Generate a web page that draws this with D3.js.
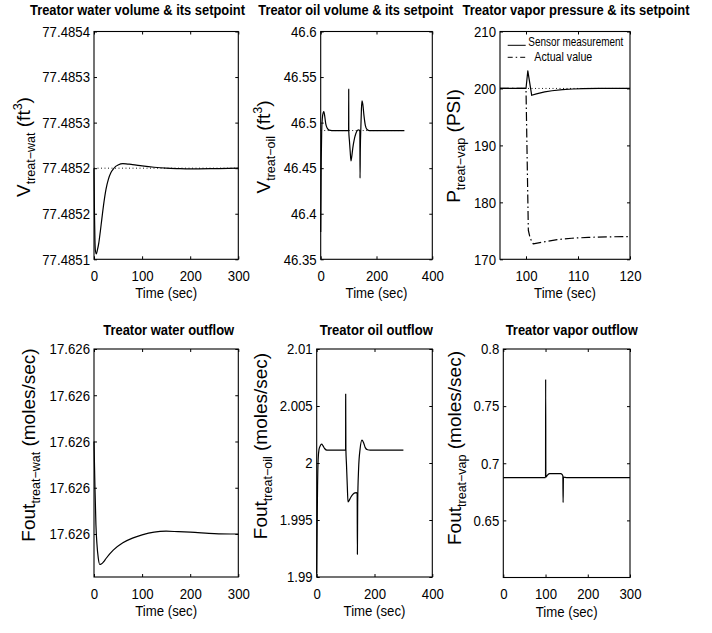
<!DOCTYPE html>
<html>
<head>
<meta charset="utf-8">
<script src="https://cdn.jsdelivr.net/npm/d3@7"></script>
<style>
  html, body { margin: 0; padding: 0; background: #fff; }
  svg { display: block; }
</style>
</head>
<body>
<svg id="fig" width="712" height="633"></svg>
<script>
// ---- Treater simulation traces (time in seconds) ----

// Treater water volume and its setpoint
const waterVolTime  = [0, 1, 2, 3, 5, 7, 10, 13, 16, 20, 25, 30, 35, 40, 45, 50, 60, 70, 80, 100, 125, 150, 175, 200, 250, 300];
const waterVolLevel = [77.48520, 77.48515, 77.48512, 77.485109, 77.485106, 77.48511, 77.485118, 77.48513, 77.485143, 77.48516,
                       77.485177, 77.485188, 77.485195, 77.485199, 77.485202, 77.4852035, 77.485205, 77.4852045, 77.485204, 77.4852025,
                       77.485201, 77.4852, 77.4851995, 77.4851992, 77.4851995, 77.4852];
const waterVolSetpoint = 77.4852;
const waterVolTicks  = [77.4851, 77.48515, 77.4852, 77.48525, 77.4853, 77.48535];
const waterVolLabels = ["77.4851", "77.4852", "77.4852", "77.4853", "77.4853", "77.4854"];

// Treater oil volume and its setpoint
const oilVolTime  = [0, 1, 2, 3.5, 6, 9, 11.5, 14, 18, 23, 30, 40, 100, 100.4, 100.7, 103, 106, 108.6, 111, 115,
                     120, 126, 132, 137, 140.3, 141, 142, 144, 146, 148, 151, 155, 160, 166, 175, 300];
const oilVolLevel = [46.38, 46.42, 46.46, 46.49, 46.505, 46.511, 46.512, 46.508, 46.499, 46.494, 46.4918, 46.4913, 46.4913, 46.5367, 46.49, 46.480, 46.467, 46.458, 46.462, 46.472,
                     46.481, 46.488, 46.4915, 46.492, 46.4905, 46.439, 46.47, 46.495, 46.515, 46.524, 46.52, 46.508, 46.497, 46.4925, 46.4913, 46.4913];
const oilVolSetpoint = 46.4913;
const oilVolTicks  = [46.35, 46.4, 46.45, 46.5, 46.55, 46.6];
const oilVolLabels = ["46.35", "46.4", "46.45", "46.5", "46.55", "46.6"];

// Treater vapor pressure: sensor reading, true value and setpoint
const sensorTime     = [95, 100, 100.35, 101.1, 102, 103.6, 105, 107, 109, 111, 114, 120];
const sensorPressure = [200, 200, 203.1, 198.8, 199.05, 199.4, 199.6, 199.8, 199.9, 199.96, 200, 200];
const actualTime     = [95, 100, 100.45, 100.8, 101.4, 103.7, 106, 108.8, 112, 116, 120];
const actualPressure = [200, 200, 175.1, 173.7, 172.7, 173.1, 173.45, 173.7, 173.85, 173.95, 174.0];
const pressureSetpoint = 200;
const pressureTicks  = [170, 180, 190, 200, 210];
const pressureLabels = ["170", "180", "190", "200", "210"];
const pressureTimeTicks  = [100, 110, 120];
const pressureTimeLabels = ["100", "110", "120"];

// Treater water outflow
const waterOutTime = [0, 2, 4, 6, 9, 12, 15, 20, 25, 40, 60, 80, 100, 125, 150, 175, 200, 250, 300];
const waterOutFlow = [17.62600, 17.625990, 17.625982, 17.625978, 17.6259747, 17.6259734, 17.6259735, 17.625974, 17.6259747, 17.6259765,
                      17.6259781, 17.6259791, 17.6259798, 17.6259804, 17.6259806, 17.6259805, 17.6259804, 17.6259801, 17.62598];
const waterOutTicks  = [17.62598, 17.62599, 17.626, 17.62601, 17.62602];
const waterOutLabels = ["17.626", "17.626", "17.626", "17.626", "17.626"];

// Treater oil outflow
const oilOutTime = [0, 1.5, 3, 5, 8, 12, 17, 22, 28, 35, 100, 100.3, 101, 103, 106, 108.3, 112, 118, 125, 132,
                    138, 140, 140.8, 141.8, 145, 150, 156.7, 162, 168, 176, 185, 300];
const oilOutFlow = [1.9903, 1.9945, 1.998, 2.0003, 2.0012, 2.0015, 2.00166, 2.0015, 2.00125, 2.00113, 2.00113, 2.00605, 2.0012, 1.9999, 1.9979, 1.99659, 1.9967, 1.997, 1.99725, 1.99738,
                    1.9974, 1.9973, 1.99199, 1.9965, 1.9995, 2.0012, 2.00201, 2.0018, 2.00135, 2.00116, 2.00113, 2.00113];
const oilOutTicks  = [1.99, 1.995, 2, 2.005, 2.01];
const oilOutLabels = ["1.99", "1.995", "2", "2.005", "2.01"];

// Treater vapor outflow
const vapOutTime = [0, 100, 100.3, 100.8, 103, 106, 110, 115, 136, 139, 141, 141.6, 142.4, 146, 150, 300];
const vapOutFlow = [0.6875, 0.6875, 0.7735, 0.6878, 0.6888, 0.6902, 0.6909, 0.691, 0.691, 0.6902, 0.6889, 0.6656, 0.688, 0.6876, 0.6875, 0.6875];
const vapOutTicks  = [0.65, 0.7, 0.75, 0.8];
const vapOutLabels = ["0.65", "0.7", "0.75", "0.8"];

// Shared time axes
const time300Ticks  = [0, 100, 200, 300];
const time300Labels = ["0", "100", "200", "300"];
const time400Ticks  = [0, 200, 400];
const time400Labels = ["0", "200", "400"];

const legendLabels = ["Sensor measurement", "Actual value"];

// ---- drawing ----
const FONT = '"Liberation Sans", Arial, Helvetica, sans-serif';
const SQUEEZE = 0.88;       // narrow face for horizontal lettering
const DASH_DOT = "9,3,1.5,3";
const DOTTED = "1,2.5";

const svg = d3.select("#fig");
svg.append("rect").attr("width", 712).attr("height", 633).attr("fill", "#fff");

const zip = (a, b) => a.map((t, i) => [t, b[i]]);

const panels = [
  {
    box: { left: 94, right: 238.3, top: 31.5, bottom: 259.3 },
    xDomain: [0, 300], xTicks: time300Ticks, xLabels: time300Labels,
    yDomain: [77.4851, 77.48535], yTicks: waterVolTicks, yLabels: waterVolLabels,
    series: [{ data: zip(waterVolTime, waterVolLevel), smooth: true }],
    setpoint: { value: waterVolSetpoint, from: 0, to: 300 },
    title: { text: "Treator water volume & its setpoint", cx: 137.5, y: 15, w: 215 },
    ylabel: { x: 30, y: 147, parts: [["V", 0], ["treat\u2212wat", 1], [" (ft", 0], ["3", -1], [")", 0]] }
  },
  {
    box: { left: 320.7, right: 432.3, top: 31.5, bottom: 259.3 },
    xDomain: [0, 400], xTicks: time400Ticks, xLabels: time400Labels,
    yDomain: [46.35, 46.6], yTicks: oilVolTicks, yLabels: oilVolLabels,
    series: [{ data: zip(oilVolTime, oilVolLevel), smooth: true }],
    setpoint: { value: oilVolSetpoint, from: 0, to: 300 },
    title: { text: "Treator oil volume & its setpoint", cx: 355.8, y: 15, w: 195 },
    ylabel: { x: 270, y: 147, parts: [["V", 0], ["treat\u2212oil", 1], [" (ft", 0], ["3", -1], [")", 0]] }
  },
  {
    box: { left: 500, right: 630, top: 31.5, bottom: 259.3 },
    xDomain: [95, 120], xTicks: pressureTimeTicks, xLabels: pressureTimeLabels,
    yDomain: [170, 210], yTicks: pressureTicks, yLabels: pressureLabels,
    series: [
      { data: zip(sensorTime, sensorPressure), smooth: false },
      { data: zip(actualTime, actualPressure), smooth: false, dash: DASH_DOT }
    ],
    setpoint: { value: pressureSetpoint, from: 95, to: 120 },
    legend: true,
    title: { text: "Treator vapor pressure & its setpoint", cx: 576, y: 15, w: 227 },
    ylabel: { x: 460, y: 146, parts: [["P", 0], ["treat\u2212vap", 1], [" (PSI)", 0]] }
  },
  {
    box: { left: 94, right: 238.3, top: 349, bottom: 577 },
    xDomain: [0, 300], xTicks: time300Ticks, xLabels: time300Labels,
    yDomain: [17.6259707, 17.62602], yTicks: waterOutTicks, yLabels: waterOutLabels,
    series: [{ data: zip(waterOutTime, waterOutFlow), smooth: true }],
    title: { text: "Treator water outflow", cx: 168.7, y: 335, w: 131 },
    ylabel: { x: 35, y: 445, parts: [["Fout", 0], ["treat\u2212wat", 1], [" (moles/sec)", 0]] }
  },
  {
    box: { left: 316.7, right: 432.3, top: 349, bottom: 577 },
    xDomain: [0, 400], xTicks: time400Ticks, xLabels: time400Labels,
    yDomain: [1.99, 2.01], yTicks: oilOutTicks, yLabels: oilOutLabels,
    series: [{ data: zip(oilOutTime, oilOutFlow), smooth: true }],
    title: { text: "Treator oil outflow", cx: 376.3, y: 335, w: 113 },
    ylabel: { x: 267, y: 446, parts: [["Fout", 0], ["treat\u2212oil", 1], [" (moles/sec)", 0]] }
  },
  {
    box: { left: 503.3, right: 630, top: 349, bottom: 577.5 },
    xDomain: [0, 300], xTicks: time300Ticks, xLabels: time300Labels,
    yDomain: [0.6, 0.8], yTicks: vapOutTicks, yLabels: vapOutLabels,
    series: [{ data: zip(vapOutTime, vapOutFlow), smooth: true }],
    title: { text: "Treator vapor outflow", cx: 571.7, y: 335, w: 132 },
    ylabel: { x: 461, y: 448, parts: [["Fout", 0], ["treat\u2212vap", 1], [" (moles/sec)", 0]] }
  }
];

function styleAxis(sel) {
  sel.select(".domain").remove();
  sel.attr("font-family", FONT).attr("font-size", 15);
  sel.selectAll(".tick line").attr("stroke", "#000").attr("stroke-width", 1);
  sel.selectAll(".tick text").attr("fill", "#000").classed("sq", true);
}

function drawPanel(p) {
  const b = p.box;
  const x = d3.scaleLinear().domain(p.xDomain).range([b.left, b.right]);
  const y = d3.scaleLinear().domain(p.yDomain).range([b.bottom, b.top]);
  const g = svg.append("g");

  // setpoint (dotted) under the traces
  if (p.setpoint) {
    g.append("line")
      .attr("x1", x(p.setpoint.from)).attr("x2", x(p.setpoint.to))
      .attr("y1", y(p.setpoint.value)).attr("y2", y(p.setpoint.value))
      .attr("stroke", "#000").attr("stroke-width", 0.9)
      .attr("stroke-dasharray", DOTTED);
  }

  p.series.forEach(s => {
    const line = d3.line()
      .x(d => x(d[0])).y(d => y(d[1]))
      .curve(s.smooth ? d3.curveMonotoneX : d3.curveLinear);
    g.append("path")
      .datum(s.data)
      .attr("d", line)
      .attr("fill", "none")
      .attr("stroke", "#000")
      .attr("stroke-width", 1.2)
      .attr("stroke-linejoin", "round")
      .attr("stroke-dasharray", s.dash || null);
  });

  // axes box with inward ticks on all sides
  g.append("g").attr("transform", `translate(0,${b.bottom})`)
    .call(d3.axisBottom(x).tickValues(p.xTicks).tickSize(-3).tickSizeOuter(0).tickPadding(11)
      .tickFormat((d, i) => p.xLabels[i]))
    .call(styleAxis);
  g.append("g").attr("transform", `translate(0,${b.top})`)
    .call(d3.axisTop(x).tickValues(p.xTicks).tickSize(-3).tickSizeOuter(0).tickFormat(""))
    .call(styleAxis);
  g.append("g").attr("transform", `translate(${b.left},0)`)
    .call(d3.axisLeft(y).tickValues(p.yTicks).tickSize(-3).tickSizeOuter(0).tickPadding(4)
      .tickFormat((d, i) => p.yLabels[i]))
    .call(styleAxis);
  g.append("g").attr("transform", `translate(${b.right},0)`)
    .call(d3.axisRight(y).tickValues(p.yTicks).tickSize(-3).tickSizeOuter(0).tickFormat(""))
    .call(styleAxis);

  g.append("rect")
    .attr("x", b.left).attr("y", b.top)
    .attr("width", b.right - b.left).attr("height", b.bottom - b.top)
    .attr("fill", "none").attr("stroke", "#000").attr("stroke-width", 1.1);

  // x label
  g.append("text").attr("class", "sq")
    .attr("x", (b.left + b.right) / 2).attr("y", b.bottom + 39)
    .attr("text-anchor", "middle")
    .attr("font-family", FONT).attr("font-size", 15).attr("fill", "#000")
    .text("Time (sec)");

  // title
  g.append("text").attr("class", "sq")
    .attr("data-w", p.title.w)
    .attr("x", p.title.cx).attr("y", p.title.y)
    .attr("text-anchor", "middle")
    .attr("font-family", FONT).attr("font-size", 14).attr("font-weight", "bold").attr("fill", "#000")
    .text(p.title.text);

  // y label with TeX-like sub/superscripts
  const yl = g.append("text")
    .attr("transform", `translate(${p.ylabel.x},${p.ylabel.y}) rotate(-90)`)
    .attr("text-anchor", "middle")
    .attr("font-family", FONT).attr("fill", "#000");
  let shift = 0;
  p.ylabel.parts.forEach(([txt, level]) => {
    const target = level === 1 ? 5 : level === -1 ? -8 : 0;
    yl.append("tspan")
      .attr("dy", target - shift)
      .attr("font-size", level === 0 ? 19 : 12.5)
      .text(txt);
    shift = target;
  });

  // legend
  if (p.legend) {
    const lx0 = 507.7, lx1 = 525.7;
    g.append("line").attr("x1", lx0).attr("x2", lx1).attr("y1", 45.3).attr("y2", 45.3)
      .attr("stroke", "#000").attr("stroke-width", 1);
    g.append("line").attr("x1", lx0).attr("x2", lx1).attr("y1", 57.3).attr("y2", 57.3)
      .attr("stroke", "#000").attr("stroke-width", 1).attr("stroke-dasharray", "5,3,1.5,3");
    g.append("text").attr("class", "sq").attr("data-w", 95)
      .attr("x", 528.3).attr("y", 46.3)
      .attr("font-family", FONT).attr("font-size", 12.5).attr("fill", "#000")
      .text(legendLabels[0]);
    g.append("text").attr("class", "sq").attr("data-w", 58)
      .attr("x", 534.3).attr("y", 61.3)
      .attr("font-family", FONT).attr("font-size", 12.5).attr("fill", "#000")
      .text(legendLabels[1]);
  }
}

panels.forEach(drawPanel);

// condense horizontal lettering
svg.selectAll("text.sq").each(function () {
  const w = this.getComputedTextLength();
  const target = this.hasAttribute("data-w") ? +this.getAttribute("data-w") : w * SQUEEZE;
  this.setAttribute("textLength", target.toFixed(2));
  this.setAttribute("lengthAdjust", "spacingAndGlyphs");
});
</script>
</body>
</html>
